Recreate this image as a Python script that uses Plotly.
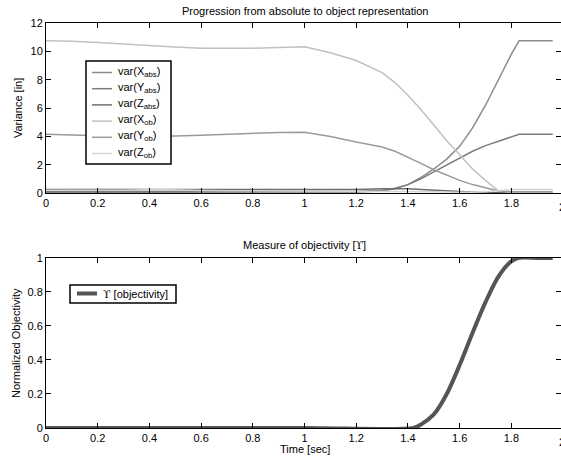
import plotly.graph_objects as go

# Time base (seconds) shared by the variance traces
t = [0.0, 0.1, 0.2, 0.3, 0.4, 0.5, 0.6, 0.7, 0.8, 0.9, 1.0, 1.1, 1.2, 1.3,
     1.35, 1.4, 1.45, 1.5, 1.55, 1.6, 1.65, 1.7, 1.75, 1.8, 1.83, 1.9, 1.96]

var_x_abs = [0.05, 0.05, 0.05, 0.05, 0.05, 0.05, 0.05, 0.05, 0.05, 0.05, 0.05, 0.06, 0.08, 0.15,
             0.3, 0.6, 1.1, 1.7, 2.4, 3.3, 4.6, 6.2, 8.0, 9.8, 10.75, 10.75, 10.75]
var_y_abs = [0.1, 0.1, 0.1, 0.1, 0.1, 0.1, 0.1, 0.1, 0.1, 0.1, 0.1, 0.1, 0.12, 0.2,
             0.35, 0.6, 1.0, 1.5, 2.0, 2.5, 2.95, 3.35, 3.65, 3.95, 4.15, 4.15, 4.15]
var_z_abs = [0.25, 0.25, 0.24, 0.24, 0.23, 0.22, 0.21, 0.21, 0.2, 0.2, 0.2, 0.22, 0.25, 0.3,
             0.32, 0.3, 0.25, 0.2, 0.14, 0.08, 0.05, 0.03, 0.02, 0.02, 0.02, 0.02, 0.02]
var_x_ob = [10.75, 10.72, 10.62, 10.5, 10.4, 10.3, 10.22, 10.2, 10.22, 10.28, 10.32, 9.9, 9.35, 8.5,
            7.8, 6.9, 5.9, 4.8, 3.7, 2.7, 1.7, 0.9, 0.15, 0.05, 0.05, 0.05, 0.05]
var_y_ob = [4.15, 4.12, 4.05, 3.98, 3.98, 4.02, 4.08, 4.15, 4.22, 4.28, 4.3, 4.0, 3.6, 3.25,
            2.95, 2.55, 2.1, 1.65, 1.25, 0.9, 0.6, 0.35, 0.15, 0.1, 0.1, 0.1, 0.1]
var_z_ob = [0.3, 0.32, 0.31, 0.3, 0.25, 0.2, 0.18, 0.17, 0.16, 0.15, 0.15, 0.15, 0.15, 0.15,
            0.14, 0.13, 0.12, 0.1, 0.07, 0.05, 0.06, 0.1, 0.2, 0.25, 0.25, 0.25, 0.25]

# Objectivity measure
t_obj = [0.0, 1.0, 1.42, 1.45, 1.5, 1.55, 1.6, 1.65, 1.7, 1.75, 1.8, 1.83, 1.9, 1.96]
objectivity = [0.0, 0.0, 0.0, 0.02, 0.08, 0.2, 0.37, 0.56, 0.74, 0.89, 0.98, 1.0, 1.0, 1.0]

SERIF = "DejaVu Serif, serif"
UPS = f'<span style="font-family:{SERIF}">ϒ</span>'

var_names = ["var(X<sub>abs</sub>)", "var(Y<sub>abs</sub>)", "var(Z<sub>abs</sub>)",
             "var(X<sub>ob</sub>)", "var(Y<sub>ob</sub>)", "var(Z<sub>ob</sub>)"]
var_series = [var_x_abs, var_y_abs, var_z_abs, var_x_ob, var_y_ob, var_z_ob]
var_colors = ["#8a8a8a", "#7c7c7c", "#6e6e6e", "#c0c0c0", "#9a9a9a", "#d4d4d4"]
obj_name = f"{UPS} [objectivity]"
obj_color = "#555555"

x_ticks = [0, 0.2, 0.4, 0.6, 0.8, 1, 1.2, 1.4, 1.6, 1.8]
x_ticktext = ["0", "0.2", "0.4", "0.6", "0.8", "1", "1.2", "1.4", "1.6", "1.8"]

FONT = "Liberation Sans, Arial, Helvetica, sans-serif"

fig = go.Figure()
for name, ys, col in zip(var_names, var_series, var_colors):
    fig.add_trace(go.Scatter(x=t, y=ys, mode="lines", name=name,
                             line=dict(color=col, width=1.5),
                             xaxis="x", yaxis="y", showlegend=False))

fig.add_trace(go.Scatter(x=t_obj, y=objectivity, mode="lines", name=obj_name,
                         line=dict(color=obj_color, width=4, shape="spline", smoothing=0.8),
                         xaxis="x2", yaxis="y2", showlegend=False))

axis_common = dict(showgrid=False, zeroline=False, ticks="inside", ticklen=5,
                   tickcolor="black", tickwidth=1, showline=True, linecolor="black",
                   linewidth=1, mirror="ticks",
                   tickfont=dict(family=FONT, size=11, color="black"))

X_MAX = 1.992
fig.update_layout(
    width=561, height=460,
    margin=dict(l=46, r=0, t=23, b=32),
    paper_bgcolor="white", plot_bgcolor="white",
    font=dict(family=FONT, size=11, color="black"),
    showlegend=False,
    xaxis=dict(domain=[0, 1], anchor="y", range=[0, X_MAX], tickvals=x_ticks,
               ticktext=x_ticktext, **axis_common),
    yaxis=dict(domain=[0.58, 1], anchor="x", range=[0, 12], tickvals=[0, 2, 4, 6, 8, 10, 12],
               **axis_common),
    xaxis2=dict(domain=[0, 1], anchor="y2", range=[0, X_MAX], tickvals=x_ticks,
                ticktext=x_ticktext, **axis_common),
    yaxis2=dict(domain=[0, 0.42], anchor="x2", range=[0, 1],
                tickvals=[0, 0.2, 0.4, 0.6, 0.8, 1],
                ticktext=["0", "0.2", "0.4", "0.6", "0.8", "1"], **axis_common),
)

# Legend boxes drawn in paper space (pixel -> paper helpers)
L, R, T, B = 46, 561, 23, 428


def px(x):
    return (x - L) / (R - L)


def py(y):
    return (B - y) / (B - T)


# Top legend: box, line samples and labels
fig.add_shape(type="rect", xref="paper", yref="paper", x0=px(86), x1=px(171),
              y0=py(164), y1=py(61), fillcolor="white",
              line=dict(color="black", width=1.5), layer="above")
for i, (name, col) in enumerate(zip(var_names, var_colors)):
    yy = 72.5 + 16.2 * i
    fig.add_shape(type="line", xref="paper", yref="paper", x0=px(92), x1=px(112),
                  y0=py(yy), y1=py(yy), line=dict(color=col, width=1.5), layer="above")
    fig.add_annotation(text=name, xref="paper", yref="paper", x=px(116), y=py(yy - 1),
                       xanchor="left", yanchor="middle", showarrow=False,
                       font=dict(size=11))

# Bottom legend
fig.add_shape(type="rect", xref="paper", yref="paper", x0=px(70), x1=px(176),
              y0=py(303), y1=py(285), fillcolor="white",
              line=dict(color="black", width=1.5), layer="above")
fig.add_shape(type="line", xref="paper", yref="paper", x0=px(77), x1=px(97),
              y0=py(293.5), y1=py(293.5), line=dict(color=obj_color, width=4), layer="above")
fig.add_annotation(text=obj_name, xref="paper", yref="paper", x=px(101), y=py(294),
                   xanchor="left", yanchor="middle", showarrow=False, font=dict(size=11))

# Panel titles and axis titles
fig.add_annotation(text="Progression from absolute to object representation",
                   xref="x", yref="paper", x=1.0, y=1.0, yshift=4, yanchor="bottom",
                   showarrow=False, font=dict(size=11))
fig.add_annotation(text=f"Measure of objectivity [{UPS}]",
                   xref="x2", yref="paper", x=1.0, y=0.42, yshift=4, yanchor="bottom",
                   showarrow=False, font=dict(size=11))
fig.add_annotation(text="Variance [in]", textangle=-90, xref="paper", yref="y domain",
                   x=0, xshift=-28, xanchor="center", y=0.5, yanchor="middle",
                   showarrow=False, font=dict(size=11))
fig.add_annotation(text="Normalized Objectivity", textangle=-90, xref="paper", yref="y2 domain",
                   x=0, xshift=-30, xanchor="center", y=0.5, yanchor="middle",
                   showarrow=False, font=dict(size=11))
fig.add_annotation(text="Time [sec]", xref="x2", yref="paper", x=1.0, y=0, yshift=-21,
                   yanchor="middle", showarrow=False, font=dict(size=11))
# Last tick label sits right at the figure edge and is partly cut off
for yr in ("y domain", "y2 domain"):
    fig.add_annotation(text="2", xref="paper", yref=yr, x=px(557), y=0, yshift=-14,
                       xanchor="left", yanchor="middle", showarrow=False,
                       font=dict(size=11))

fig.write_html("out.html")
